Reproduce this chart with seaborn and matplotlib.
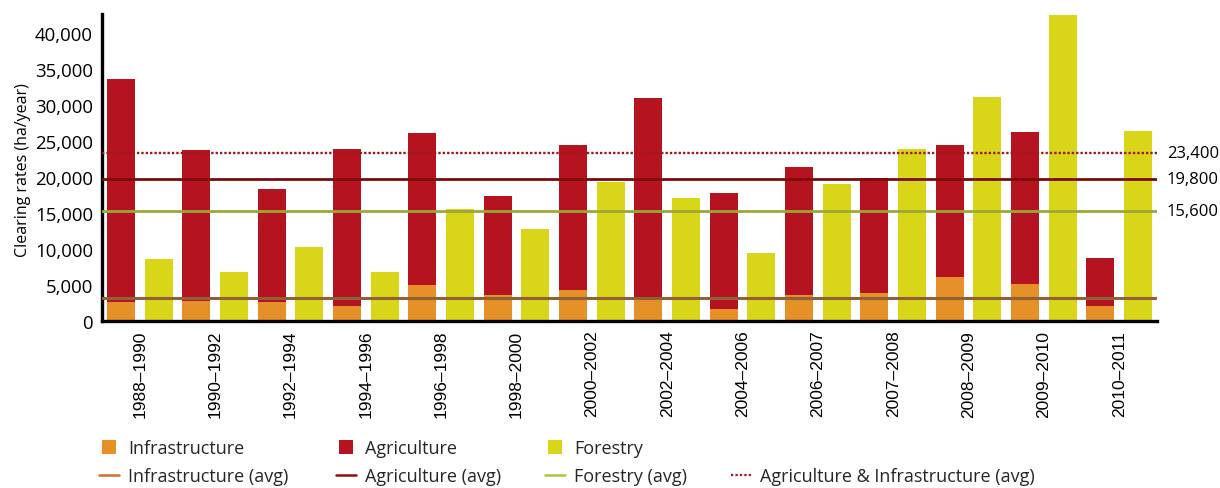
import matplotlib
matplotlib.use("Agg")
import matplotlib.pyplot as plt
import matplotlib.transforms as mtransforms
from matplotlib.lines import Line2D
from matplotlib.ticker import FuncFormatter
import seaborn as sns
import pandas as pd

# ---------------- data ----------------
periods = ["1988–1990", "1990–1992", "1992–1994", "1994–1996", "1996–1998",
           "1998–2000", "2000–2002", "2002–2004", "2004–2006", "2006–2007",
           "2007–2008", "2008–2009", "2009–2010", "2010–2011"]
infrastructure = [2700, 2850, 2700, 2150, 5100, 3650, 4350, 3400, 1700, 3650,
                  3950, 6150, 5200, 2150]
agriculture = [30950, 20950, 15700, 21800, 21050, 13750, 20150, 27600, 16150,
               17800, 15950, 18350, 21100, 6650]
forestry = [8650, 6850, 10300, 6850, 15600, 12800, 19350, 17100, 9500, 19050,
            23950, 31150, 42550, 26450]

avg_infrastructure = 3260
avg_agriculture = 19800
avg_forestry = 15300
avg_agri_infra = 23400
avg_labels = ["23,400", "19,800", "15,600"]
yticks = list(range(0, 40001, 5000))

# ---------------- colours ----------------
C_INF = "#E69127"
C_AGRI = "#B5131F"
C_FOR = "#D9D519"
L_INF = "#8E6138"
L_AGRI = "#7B0A0A"
L_FOR = "#9AA838"
L_AI = "#9B1B1B"
LEG_INF = "#CF6F2A"
LEG_AGRI = "#8B0F0F"
LEG_FOR = "#B3C23A"

sns.set_style("white")
plt.rcParams["font.family"] = ["Open Sans", "DejaVu Sans"]

W, H = 1220, 489
fig = plt.figure(figsize=(W / 100, H / 100), dpi=100)
ax = fig.add_axes([102 / W, 1 - 322.3 / H, 1055 / W, (322.3 - 15) / H])

n = len(periods)
agri_top = [i + a for i, a in zip(infrastructure, agriculture)]
df_top = pd.DataFrame({
    "period": periods * 2,
    "type": ["Agriculture"] * n + ["Forestry"] * n,
    "value": agri_top + forestry,
})
df_inf = pd.DataFrame({
    "period": periods * 2,
    "type": ["Agriculture"] * n + ["Forestry"] * n,
    "value": infrastructure + [0] * n,
})

common = dict(x="period", y="value", hue="type", order=periods,
              hue_order=["Agriculture", "Forestry"], width=1.0, gap=0.256,
              dodge=True, errorbar=None, saturation=1, linewidth=0,
              legend=False, ax=ax)
sns.barplot(data=df_top, palette={"Agriculture": C_AGRI, "Forestry": C_FOR}, **common)
sns.barplot(data=df_inf, palette={"Agriculture": C_INF, "Forestry": C_FOR}, **common)

# average lines
ax.axhline(avg_infrastructure, color=L_INF, lw=2.2, zorder=3)
ax.axhline(avg_agriculture, color=L_AGRI, lw=2.0, zorder=3)
ax.axhline(avg_forestry, color=L_FOR, lw=2.0, zorder=3)
ax.axhline(avg_agri_infra, color=L_AI, lw=1.7, ls=(0, (1, 0.85)), zorder=3)

trans = mtransforms.blended_transform_factory(ax.transAxes, ax.transData)
for val, lab in zip([avg_agri_infra, avg_agriculture, avg_forestry], avg_labels):
    ax.text(1.0095, val, lab, transform=trans, ha="left", va="center",
            fontsize=12, color="black", clip_on=False)

# axes styling
ax.set_xlim(-0.5, n - 0.5)
ax.set_ylim(0, 42700)
ax.set_yticks(yticks)
ax.yaxis.set_major_formatter(FuncFormatter(lambda v, p: f"{int(v):,}"))
ax.tick_params(axis="y", direction="in", length=8.3, width=1.5, pad=6.5,
               labelsize=13.4, color="black", labelcolor="black")
ax.set_xticks(range(n))
ax.set_xticklabels(periods)
ax.set_xticks([i + 0.5 for i in range(-1, n)], minor=True)
ax.tick_params(axis="x", which="major", length=0, pad=6)
ax.tick_params(axis="x", which="minor", direction="in", length=4.3, width=1.5,
               color="black")
for lbl in ax.get_xticklabels():
    lbl.set_rotation(90)
    lbl.set_family(["Liberation Sans", "DejaVu Sans"])
    lbl.set_fontsize(12.5)
    lbl.set_color("black")

for s in ["top", "right"]:
    ax.spines[s].set_visible(False)
for s in ["left", "bottom"]:
    ax.spines[s].set_linewidth(2.4)
    ax.spines[s].set_color("black")

ax.set_xlabel("")
ax.set_ylabel("Clearing rates (ha/year)", fontsize=11.5, color="black")
ax.yaxis.set_label_coords((31 - 102) / 1055, (322.3 - 170) / 307.3)
ax.grid(False)

# legend (placed entry by entry)
fs = 13
fs_px = fs * 100 / 72
entries = [
    (Line2D([], [], marker="s", ms=10.5, mew=0, color=C_INF, ls="none"), "Infrastructure", 99, 449),
    (Line2D([], [], color=LEG_INF, lw=1.8), "Infrastructure (avg)", 99, 477),
    (Line2D([], [], marker="s", ms=10.5, mew=0, color=C_AGRI, ls="none"), "Agriculture", 336, 449),
    (Line2D([], [], color=LEG_AGRI, lw=1.8), "Agriculture (avg)", 336, 477),
    (Line2D([], [], marker="s", ms=10.5, mew=0, color=C_FOR, ls="none"), "Forestry", 545, 449),
    (Line2D([], [], color=LEG_FOR, lw=1.8), "Forestry (avg)", 545, 477),
    (Line2D([], [], color=L_AI, lw=1.6, ls=(0, (1, 1.0))), "Agriculture & Infrastructure (avg)", 731, 477),
]
for h, lab, x, y in entries:
    fig.legend([h], [lab], loc="center left", bbox_to_anchor=(x / W, 1 - y / H),
               frameon=False, borderpad=0, borderaxespad=0,
               handlelength=20 / fs_px, handletextpad=9 / fs_px, fontsize=fs)

fig.savefig("out.png", dpi=100)
